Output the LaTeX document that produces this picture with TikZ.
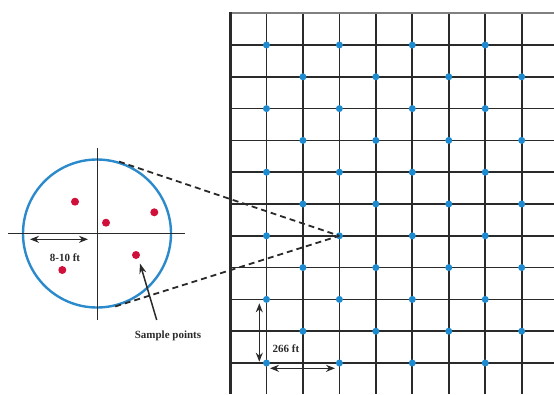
\documentclass[tikz,border=0pt]{standalone}
\usepackage{fontspec}
\setmainfont{Liberation Serif}
\usetikzlibrary{arrows.meta}
\definecolor{dotblue}{HTML}{1E8BD0}
\definecolor{ringblue}{HTML}{2B8ACB}
\definecolor{dotred}{HTML}{D0103A}
\definecolor{ink}{HTML}{2A2A2A}
\tikzset{
  gridline/.style={draw=ink, line width=1.7pt},
  bdot/.style={circle, fill=dotblue, inner sep=0pt, minimum size=7pt},
  rdot/.style={circle, fill=dotred, inner sep=0pt, minimum size=8pt},
  ring/.style={circle, draw=ringblue, line width=2.4pt, minimum size=148pt, inner sep=0pt},
  crossline/.style={draw=ink, line width=1.3pt},
  zoomline/.style={draw=ink, line width=1.8pt, dash pattern=on 6pt off 4pt},
  dimarrow/.style={draw=ink, line width=1.5pt, {Stealth[length=9pt,width=7pt]}-{Stealth[length=9pt,width=7pt]}},
  ptarrow/.style={draw=ink, line width=1.5pt, -{Stealth[length=10pt,width=7pt]}},
  lbl/.style={font=\bfseries\fontsize{11}{13}\selectfont, text=ink, inner sep=0pt}
}
\begin{document}
\begin{tikzpicture}[x=1pt,y=-1pt]
\useasboundingbox (0,0) rectangle (554,394);
% grid lines
\foreach \k in {1,...,8} {
  \draw[gridline] ({230+36.46*\k},13) -- ({230+36.46*\k},394);
}
\foreach \r in {0,...,10} {
  \draw[gridline] (230,{45+31.8*\r}) -- (554,{45+31.8*\r});
}
\draw[draw=gray, line width=1.6pt] (230,13) -- (554,13);
\draw[draw=ink, line width=3pt] (230,12.2) -- (230,394);
% sample grid dots
\foreach \r in {0,...,10} {
  \foreach \k in {1,...,8} {
    \pgfmathtruncatemacro\p{mod(\r+\k,2)}
    \ifnum\p=1
      \node[bdot] (d-\k-\r) at ({230+36.46*\k},{45+31.8*\r}) {};
    \fi
  }
}
% enlarged sample circle
\node[ring] (C) at (97,233.5) {};
\coordinate (hl) at (8,233.5);
\coordinate (hr) at (185,233.5);
\coordinate (vt) at (97.3,148);
\coordinate (vb) at (97.3,320);
\draw[crossline] (hl) -- (hr);
\draw[crossline] (vt) -- (vb);
% zoom lines
\draw[zoomline] (C.73) -- (d-3-6.center);
\draw[zoomline] (C.-76) -- (d-3-6.center);
% red sample points
\node[rdot] (s1) at (75,201.7) {};
\node[rdot] (s2) at (106,222.7) {};
\node[rdot] (s3) at (154.3,212.3) {};
\node[rdot] (s4) at (136,255) {};
\node[rdot] (s5) at (62.3,270) {};
% 8-10 ft
\coordinate (a1) at (30,239.3);
\coordinate (a2) at (88,239.3);
\draw[dimarrow] (a1) -- (a2);
\node[lbl] (t1) at (65,257.5) {8-10 ft};
% sample points label
\node[lbl] (t2) at (168,336) {Sample points};
\coordinate (pa) at (156.7,320);
\draw[ptarrow] (pa) -- (140,263.5);
% 266 ft
\coordinate (v1) at (259.3,303.3);
\coordinate (v2) at (259.3,361.7);
\draw[dimarrow] (v1) -- (v2);
\coordinate (h1) at (270,368.3);
\coordinate (h2) at (335,368.3);
\draw[dimarrow] (h1) -- (h2);
\node[lbl] (t3) at (286,348.3) {266 ft};
\end{tikzpicture}
\end{document}
